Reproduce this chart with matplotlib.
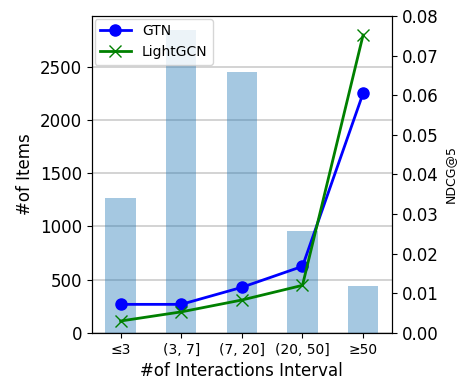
import matplotlib
matplotlib.use("Agg")
import matplotlib.pyplot as plt
import numpy as np

# 数据
intervals = ["≤3", "(3, 7]", "(7, 20]", "(20, 50]", "≥50"]
num_items = [1270, 2840, 2450, 960, 440]
gtn_ndcg = [0.0072, 0.0072, 0.0115, 0.0168, 0.0605]
lightgcn_ndcg = [0.0030, 0.0053, 0.0083, 0.0120, 0.0752]

x = np.arange(len(intervals))

fig, ax1 = plt.subplots(figsize=(4.66, 3.8), dpi=100)
fig.subplots_adjust(left=0.197, right=0.841, top=0.958, bottom=0.124)

# 柱状图：物品数量
ax1.bar(x, num_items, width=0.5, color="tab:blue", alpha=0.4)
ax1.set_ylim(0, 2975)
ax1.set_axisbelow(True)
ax1.grid(axis="y", color="#cccccc", linewidth=1.2)
ax1.set_ylabel("#of Items", fontsize=12)
ax1.set_xlabel("#of Interactions Interval", fontsize=12)
ax1.set_xticks(x)
ax1.set_xticklabels(intervals, fontsize=10)
ax1.tick_params(axis="y", labelsize=12)

# 折线图：NDCG@5
ax2 = ax1.twinx()
ax2.plot(x, gtn_ndcg, color="blue", marker="o", markersize=8, linewidth=2, label="GTN")
ax2.plot(x, lightgcn_ndcg, color="green", marker="x", markersize=8, linewidth=2, label="LightGCN")
ax2.set_ylim(0, 0.08)
ax2.set_ylabel("NDCG@5", fontsize=9)
ax2.tick_params(axis="y", labelsize=12)
ax2.legend(loc="upper left", fontsize=10, borderaxespad=0.2, handlelength=2.2)

plt.savefig("out.png")
